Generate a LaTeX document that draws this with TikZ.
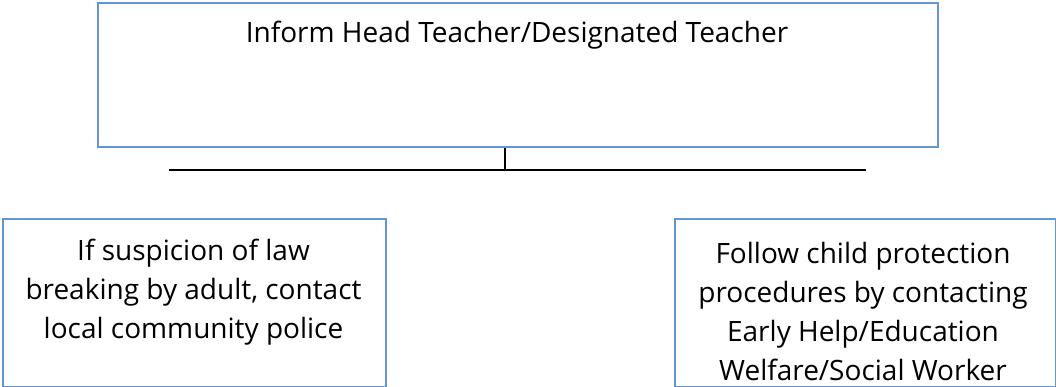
\documentclass[tikz,border=0pt]{standalone}
\usepackage{fontspec}
\setmainfont{Open Sans}
\definecolor{boxblue}{RGB}{98,150,215}
\begin{document}
\begin{tikzpicture}[x=1pt,y=-1pt]
\tikzset{
  box/.style={draw=boxblue, line width=2pt, fill=white, inner sep=0pt},
  txt/.style={align=center, inner sep=0pt, font=\fontsize{28}{39}\selectfont},
  link/.style={draw=black, line width=2pt}
}
\useasboundingbox (0,0) rectangle (1056,387);
\node[box, anchor=north west, minimum width=840pt, minimum height=144pt] (top) at (97,2) {};
\node[txt, anchor=base] (toptxt) at (517,43) {Inform Head Teacher/Designated Teacher};
\coordinate (j) at (505,170);
\coordinate (hl) at (169,170);
\coordinate (hr) at (866,170);
\draw[link] (top.south -| j) -- (j);
\draw[link] (hl) -- (hr);
\node[box, anchor=north west, minimum width=383pt, minimum height=168pt] (left) at (2,218) {};
\node[txt] (lefttxt) at (193.5,292) {If suspicion of law\\breaking by adult, contact\\local community police};
\node[box, anchor=north west, minimum width=381pt, minimum height=168pt] (right) at (673.5,218) {};
\node[txt] (righttxt) at (863,311.5) {Follow child protection\\procedures by contacting\\Early Help/Education\\Welfare/Social Worker};
\end{tikzpicture}
\end{document}
